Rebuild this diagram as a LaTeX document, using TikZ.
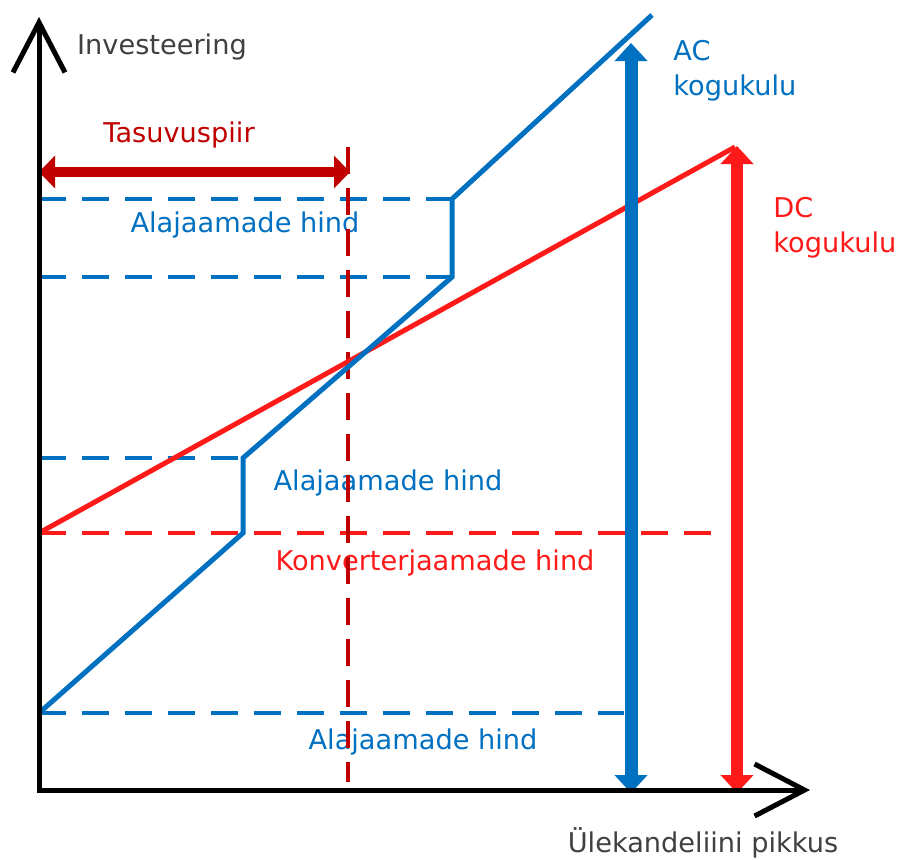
\documentclass[tikz,border=0pt]{standalone}
\usepackage{fontspec}
\setmainfont{DejaVu Sans}
\usetikzlibrary{arrows.meta}

\definecolor{acblue}{HTML}{0070C0}
\definecolor{dcred}{HTML}{FF1A1A}
\definecolor{darkred}{HTML}{C00000}
\definecolor{axisgray}{HTML}{404040}

\begin{document}
\begin{tikzpicture}[x=0.5pt,y=-0.5pt,
        every node/.style={font=\fontsize{13.6pt}{17.5pt}\selectfont, inner sep=0pt},
        axis/.style={draw=black, line width=2.5pt,
            {Straight Barb[length=25pt,width=26pt]}-{Straight Barb[length=25pt,width=26pt]}},
        acline/.style={draw=acblue, line width=2.5pt},
        dcline/.style={draw=dcred, line width=2.5pt},
        acdash/.style={draw=acblue, line width=2pt, dash pattern=on 13.5pt off 8pt},
        dcdash/.style={draw=dcred, line width=2pt, dash pattern=on 13.5pt off 8pt},
        paydash/.style={draw=darkred, line width=2pt, dash pattern=on 13.5pt off 7pt},
        bigarrow/.style={line width=#1,
            {Triangle[length=9pt,width=16pt]}-{Triangle[length=9pt,width=16pt]}}]
        \useasboundingbox (0,0) rectangle (900,859);

        % points
        \coordinate (O) at (39,790);
        \coordinate (ytop) at (39,17);
        \coordinate (xend) at (810,790);

        \coordinate (a0) at (39,713);
        \coordinate (a1) at (243,533);
        \coordinate (a2) at (243,458);
        \coordinate (a3) at (452,277);
        \coordinate (a4) at (452,199);
        \coordinate (a5) at (652,15);

        \coordinate (d0) at (39,533);
        \coordinate (d1) at (735,147);

        \coordinate (pay0) at (39,172);
        \coordinate (pay1) at (350,172);
        \coordinate (paytop) at (348,147);
        \coordinate (paybot) at (348,782);

        \coordinate (actop) at (631,43);
        \coordinate (acbot) at (631,793);
        \coordinate (dctop) at (737,146);
        \coordinate (dcbot) at (737,793);

        \coordinate (s1) at (39,199);
        \coordinate (s2) at (39,277);
        \coordinate (s3) at (39,458);
        \coordinate (s4) at (39,713);
        \coordinate (s4e) at (624,713);
        \coordinate (k0) at (39,533);
        \coordinate (k1) at (720,533);

        % labels
        \node[text=axisgray] (yname) at (162,47) {Investeering};
        \node[text=axisgray] (xname) at (703,843) {Ülekandeliini pikkus};
        \node[text=darkred] (payname) at (179,135) {Tasuvuspiir};
        \node[text=acblue] (sub1) at (245,225) {Alajaamade hind};
        \node[text=acblue] (sub2) at (388,483) {Alajaamade hind};
        \node[text=acblue] (sub3) at (423,742) {Alajaamade hind};
        \node[text=dcred] (conv) at (435,563) {Konverterjaamade hind};
        \node[text=acblue, align=left, anchor=north west] (acname) at (673,40) {AC\\kogukulu};
        \node[text=dcred, align=left, anchor=north west] (dcname) at (773,197) {DC\\kogukulu};

        % dashed guides
        \path[acdash] (s1) -- (a4);
        \path[acdash] (s2) -- (a3);
        \path[acdash] (s3) -- (a2);
        \path[acdash] (s4) -- (s4e);
        \path[dcdash] (k0) -- (k1);
        \path[paydash] (paytop) -- (paybot);

        % cost lines
        \path[dcline] (d0) -- (d1);
        \path[acline] (a0) -- (a1) -- (a2) -- (a3) -- (a4) -- (a5);

        % totals
        \draw[bigarrow=6pt, draw=dcred, fill=dcred] (dcbot) -- (dctop);
        \draw[bigarrow=6.5pt, draw=acblue, fill=acblue] (acbot) -- (actop);
        \draw[line width=5pt, draw=darkred, fill=darkred,
            {Triangle[length=8pt,width=16pt]}-{Triangle[length=8pt,width=16pt]}] (pay0) -- (pay1);

        % axes
        \draw[axis, line join=miter] (ytop) -- (O) -- (xend);
\end{tikzpicture}
\end{document}
